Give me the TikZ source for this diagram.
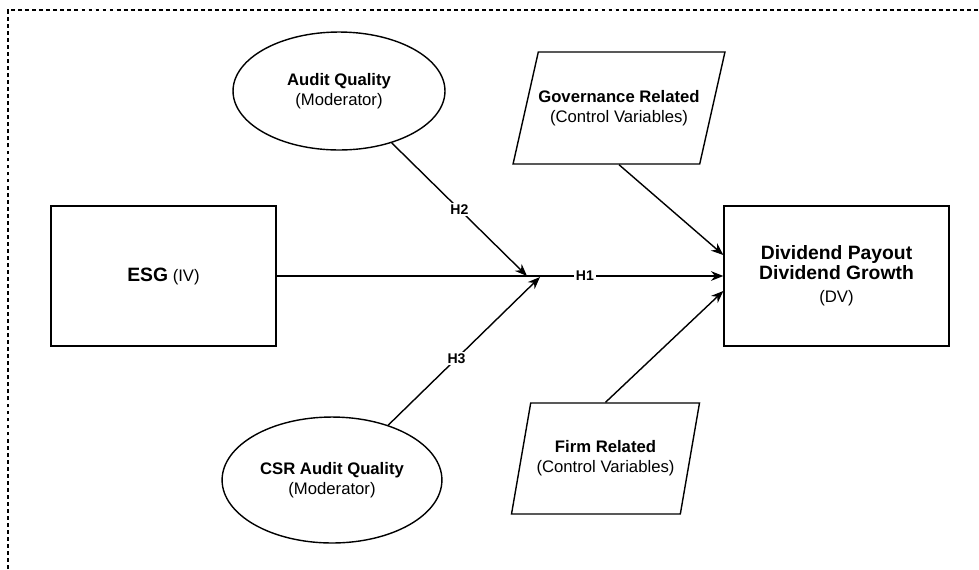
\documentclass[tikz,border=0pt]{standalone}
\usepackage{fontspec}
\setmainfont{Liberation Sans}
\usetikzlibrary{shapes.geometric, arrows.meta}
\tikzstyle{varbox} = [rectangle, minimum width=4.5cm, minimum height=2.8cm, text centered, align=center, draw=black, line width=0.8pt]
\tikzstyle{moderator} = [ellipse, minimum width=4.24cm, minimum height=2.36cm, text centered, align=center, draw=black, line width=0.8pt]
\tikzstyle{control} = [trapezium, trapezium left angle=62, trapezium right angle=118, trapezium stretches body=true, minimum width=3.74cm, minimum height=2.24cm, text centered, align=center, draw=black, line width=0.8pt]
\tikzstyle{arrow} = [line width=0.8pt, -{Stealth[length=7pt, width=5.5pt]}]
\tikzstyle{hyp} = [font=\fontsize{8}{9}\selectfont\bfseries, fill=white, inner sep=1pt]

\begin{document}
\begin{tikzpicture}[x=0.02cm, y=-0.02cm, font=\fontsize{9.5}{11.5}\selectfont]

	\useasboundingbox (0,0) rectangle (979,569);
	\draw [dashed, dash pattern=on 2.2pt off 1.8pt, line width=0.6pt] (8,569) -- (8,10) -- (979,10);

	\node (esg) [varbox] at (163.5,276) {{\fontsize{11}{13}\selectfont\bfseries ESG} (IV)};
	\node (dv) [varbox] at (836.5,276) {{\fontsize{11}{12}\selectfont\bfseries Dividend Payout}\\{\fontsize{11}{12}\selectfont\bfseries Dividend Growth}\\[1.5pt](DV)};
	\node (audit) [moderator] at (339,91) {\textbf{Audit Quality}\\(Moderator)};
	\node (csr) [moderator, minimum width=4cm, minimum height=2.52cm] at (332,480) {\textbf{CSR Audit Quality}\\(Moderator)};
	\node (gov) [control, inner xsep=0pt] at (619,108) {\textbf{Governance Related}\\(Control Variables)};
	\node (firm) [control, trapezium left angle=68, trapezium right angle=112, minimum height=2.22cm] at (605.5,458.5) {\textbf{Firm Related}\\(Control Variables)};

	\coordinate (h2end) at (527,276);
	\coordinate (h3end) at (540,277);

	\draw [arrow] (esg) -- node[hyp, pos=0.69] {H1} (dv);
	\draw [arrow] (audit) -- node[hyp] {H2} (h2end);
	\draw [arrow] (csr) -- node[hyp, pos=0.45] {H3} (h3end);
	\draw [arrow] (gov.south) -- ([yshift=0.42cm]dv.west);
	\draw [arrow] (firm.north) -- ([yshift=-0.3cm]dv.west);

\end{tikzpicture}
\end{document}
